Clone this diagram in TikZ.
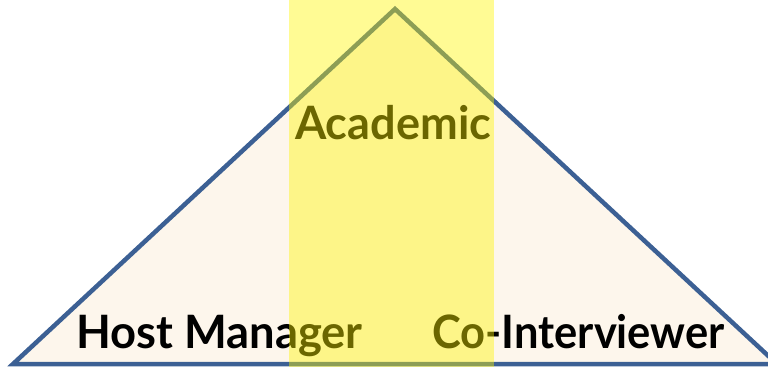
\documentclass[tikz,border=0pt]{standalone}
\usepackage{fontspec}
\setmainfont{Lato}
\definecolor{edgeblue}{HTML}{3C6094}
\definecolor{cream}{HTML}{FDF6EC}
\definecolor{hilite}{HTML}{FFF500}
\begin{document}
\begin{tikzpicture}[x=1pt,y=1pt,
  label/.style={font=\fontsize{46}{50}\selectfont\bfseries, inner sep=0pt, anchor=base west}]
\useasboundingbox (0,0) rectangle (768,367);
\clip (0,0) rectangle (768,367);
% pyramid
\draw[edgeblue, line width=4.5, fill=cream, line join=miter]
  (13,3) -- (395,358) -- (777,3) -- cycle;
% role labels
\node[label] (academic) at (295,227) {\scalebox{0.98}[1]{Academic}};
\node[label] (host) at (76,19) {\scalebox{0.985}[1]{Host Manager}};
\node[label] (cointer) at (432,19) {\scalebox{0.945}[1]{Co-Interviewer}};
% highlighted column
\fill[hilite, opacity=0.42] (289,0) rectangle (494,367);
\end{tikzpicture}
\end{document}
